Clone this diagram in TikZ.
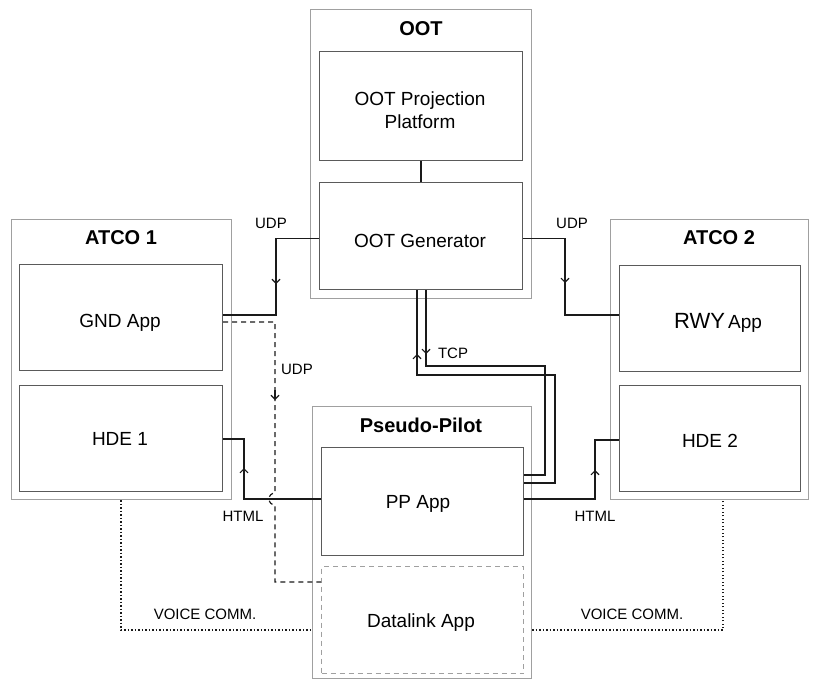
\documentclass[tikz,border=0pt]{standalone}
\usepackage{fontspec}
\setmainfont{Liberation Sans}
\usetikzlibrary{arrows.meta}
\definecolor{outergray}{HTML}{A0A0A0}
\definecolor{innergray}{HTML}{5A5A5A}
\definecolor{linecol}{HTML}{1A1A1A}
\begin{document}
\begin{tikzpicture}[x=1pt,y=-1pt,
  outerbox/.style={draw=outergray, line width=1.2pt, inner sep=0pt, anchor=north west},
  innerbox/.style={draw=innergray, line width=1.1pt, inner sep=0pt, anchor=north west},
  dlbox/.style={draw=outergray, line width=1.1pt, dash pattern=on 5pt off 4pt, inner sep=0pt, anchor=north west},
  conn/.style={draw=linecol, line width=1.2pt},
  dashconn/.style={draw=linecol, line width=1.2pt, dash pattern=on 5pt off 4pt},
  dotconn/.style={draw=linecol, line width=1.2pt, dash pattern=on 1.3pt off 2.2pt},
  tip/.style={draw=linecol, line width=1.1pt, -{Straight Barb[length=4pt,width=8pt]}},
  ttl/.style={font=\fontsize{20}{24}\selectfont\bfseries, anchor=base, inner sep=0pt},
  txt/.style={font=\fontsize{19}{23}\selectfont, anchor=base, inner sep=0pt},
  lbl/.style={font=\fontsize{15}{18}\selectfont, anchor=base, inner sep=0pt}]
\useasboundingbox (0,0) rectangle (818,680);

% outer boxes
\node[outerbox, minimum width=221pt, minimum height=289pt] (oot) at (310,9) {};
\node[outerbox, minimum width=220pt, minimum height=280pt] (atco1) at (11,219) {};
\node[outerbox, minimum width=198pt, minimum height=280pt] (atco2) at (610,219) {};
\node[outerbox, minimum width=219pt, minimum height=272pt] (pp0) at (312,406) {};

% inner boxes
\node[innerbox, minimum width=203pt, minimum height=109pt] (proj) at (319,51) {};
\node[innerbox, minimum width=203pt, minimum height=107pt] (gen) at (319,182) {};
\node[innerbox, minimum width=203pt, minimum height=106pt] (gnd) at (19,264) {};
\node[innerbox, minimum width=203pt, minimum height=106pt] (hde1) at (19,385) {};
\node[innerbox, minimum width=181pt, minimum height=106pt] (rwy) at (619,265) {};
\node[innerbox, minimum width=181pt, minimum height=106pt] (hde2) at (619,385) {};
\node[innerbox, minimum width=202pt, minimum height=108pt] (pp) at (321,447) {};
\node[dlbox, minimum width=202pt, minimum height=107pt] (dl) at (321,566) {};

% titles
\node[ttl] (tOOT) at (421,35) {OOT};
\node[ttl] (tA1) at (121,244) {ATCO 1};
\node[ttl] (tA2) at (719,244) {ATCO 2};
\node[ttl] (tPP) at (421,432) {Pseudo-Pilot};

% box texts
\node[txt] (xproj1) at (420,105) {OOT Projection};
\node[txt] (xproj2) at (420,128) {Platform};
\node[txt] (xgen) at (420,247) {OOT Generator};
\node[txt] (xgnd) at (120,327) {GND App};
\node[txt] (xhde1) at (120,445) {HDE 1};
\node[txt] (xrwy) at (718,328) {{\fontsize{22}{26}\selectfont RWY}\,App};
\node[txt] (xhde2) at (710,447) {HDE 2};
\node[txt] (xpp) at (418,508) {PP App};
\node[txt] (xdl) at (421,627) {Datalink App};

% labels
\node[lbl] (lu1) at (271,228) {UDP};
\node[lbl] (lu2) at (572,228) {UDP};
\node[lbl] (lu3) at (297,374) {UDP};
\node[lbl] (ltcp) at (453,358) {TCP};
\node[lbl] (lh1) at (243,521) {HTML};
\node[lbl] (lh2) at (595,521) {HTML};
\node[lbl] (lv1) at (205,619) {VOICE COMM.};
\node[lbl] (lv2) at (632,619) {VOICE COMM.};

% projection - generator
\draw[conn] (proj.south) -- (gen.north);

% UDP left / right
\coordinate (u1) at (276,315);
\coordinate (u2) at (565,315);
\draw[conn] ([yshift=-2.5pt]gen.west) -| (u1) -- (gnd.east |- u1);
\draw[conn] ([yshift=-2.5pt]gen.east) -| (u2) -- (rwy.west |- u2);
\draw[tip] (276,274) -- (276,284);
\draw[tip] (565,273) -- (565,283);

% TCP
\coordinate (t1a) at (426,366);
\coordinate (t1b) at (545,475);
\coordinate (t2a) at (417,375);
\coordinate (t2b) at (555,483);
\draw[conn] (gen.south -| t1a) -- (t1a) -| (t1b) -- (pp.east |- t1b);
\draw[conn] (pp.east |- t2b) -- (t2b) |- (t2a) -- (gen.south -| t2a);
\draw[tip] (426,344) -- (426,354);
\draw[tip] (417,364) -- (417,354);

% HTML
\coordinate (h1) at (595,440);
\coordinate (h1b) at (595,499);
\coordinate (h2) at (244,439);
\coordinate (h2b) at (244,499);
\draw[conn] (pp.east |- h1b) -| (h1) -- (hde2.west |- h1);
\draw[conn] (pp.west |- h2b) -| (h2) -- (hde1.east |- h2);
\draw[tip] (595,480) -- (595,470);
\draw[tip] (244,478) -- (244,468);

% dashed UDP to datalink
\coordinate (d1) at (275,322);
\coordinate (d2) at (275,582);
\draw[dashconn] (gnd.east |- d1) -- (d1) -- (275,493) arc[start angle=90, end angle=270, radius=6pt] -- (d2) -- (dl.west |- d2);
\draw[tip, solid] (275,390) -- (275,400);

% voice comm
\coordinate (v1) at (121,630);
\coordinate (v2) at (723,630);
\draw[dotconn] (atco1.south -| v1) -- (v1) -- (pp0.west |- v1);
\draw[dotconn] (pp0.east |- v2) -- (v2) -- (atco2.south -| v2);
\end{tikzpicture}
\end{document}
